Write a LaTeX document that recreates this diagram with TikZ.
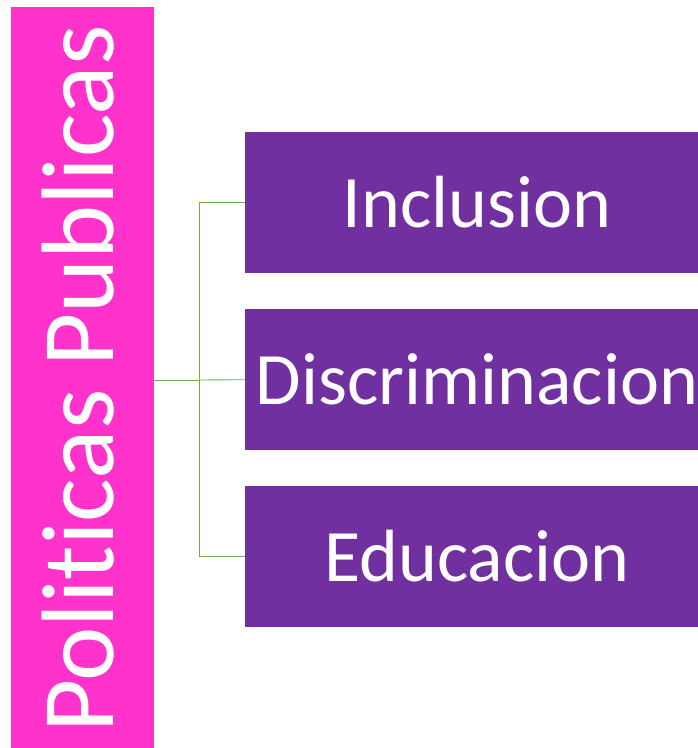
\documentclass[tikz,border=0pt]{standalone}
\usepackage{fontspec}
\setmainfont[Ligatures={NoCommon,NoRare}]{Carlito}
\definecolor{pinkbox}{HTML}{FF33CC}
\definecolor{purplebox}{HTML}{7030A0}
\definecolor{conn}{HTML}{70AD47}
\begin{document}
\begin{tikzpicture}[x=1pt,y=-1pt,
  branch/.style={draw=none,fill=purplebox,minimum width=453pt,minimum height=141pt,inner sep=0pt,anchor=north west},
  btext/.style={text=white,font=\fontsize{74}{80}\selectfont},
  link/.style={draw=conn,line width=0.9pt}]
\useasboundingbox (0,0) rectangle (698,748);
\fill[pinkbox] (11,7) rectangle (154,748);
\node[inner sep=0pt,rotate=90,text=white,font=\fontsize{103}{108}\selectfont] (root) at (78,379) {Politicas Publicas};
\coordinate (rootE) at (154,380);
\node[branch] (b1) at (245,132) {};
\node[branch] (b2) at (245,309) {};
\node[branch] (b3) at (245,486) {};
\node[btext] (t1) at (477,202) {Inclusion};
\node[btext] (t2) at (477,379) {Discriminacion};
\node[btext] (t3) at (477,556) {Educacion};
\coordinate (j) at (199.5,380);
\draw[link] (rootE) -- (j);
\draw[link] (j) |- (b1.west);
\draw[link] (j) -- (b2.west);
\draw[link] (j) |- (b3.west);
\end{tikzpicture}
\end{document}
